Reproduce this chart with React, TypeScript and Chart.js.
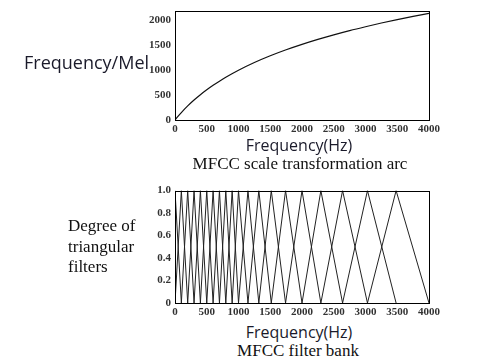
import React, { useEffect, useRef } from "react";
import { Chart, registerables } from "chart.js";

Chart.register(...registerables);

// Top chart: frequency (Hz) -> mel
const melFreqs = [0, 50, 100, 200, 300, 400, 500, 600, 700, 800, 1000, 1250, 1500, 1750, 2000, 2250, 2500, 2750, 3000, 3250, 3500, 3750, 4000];
const melValues = [0, 78, 150, 283, 402, 509, 607, 698, 781, 859, 1000, 1155, 1291, 1412, 1521, 1621, 1713, 1798, 1876, 1950, 2019, 2085, 2146];

// Bottom chart: triangular filter edge / centre frequencies (Hz)
const filterEdges = [0, 100, 200, 300, 400, 500, 600, 700, 800, 900, 1000, 1149, 1320, 1516, 1741, 2000, 2297, 2639, 3031, 3482, 4000];

const xTicks = [0, 500, 1000, 1500, 2000, 2500, 3000, 3500, 4000];
const melTicks = [0, 500, 1000, 1500, 2000];
const degreeTicks = [0, 0.2, 0.4, 0.6, 0.8, 1.0];

const tickFont = { family: "'Liberation Serif', 'DejaVu Serif', serif", size: 11, weight: "bold" as const };
const tickColor = "#333";

const boxPlugin = {
  id: "box",
  afterDraw(chart: any) {
    const { ctx, chartArea } = chart;
    ctx.save();
    ctx.strokeStyle = "#000";
    ctx.lineWidth = 1;
    ctx.strokeRect(Math.round(chartArea.left) + 0.5, Math.round(chartArea.top) + 0.5,
      Math.round(chartArea.right - chartArea.left), Math.round(chartArea.bottom - chartArea.top));
    ctx.restore();
  },
};

function xScale(height: number) {
  return {
    type: "linear" as const,
    min: 0,
    max: 4000,
    grid: { display: false, drawTicks: false },
    border: { display: false },
    afterBuildTicks: (s: any) => { s.ticks = xTicks.map((v) => ({ value: v })); },
    afterFit: (s: any) => { s.height = height; },
    ticks: { font: tickFont, color: tickColor, padding: 3, maxRotation: 0, autoSkip: false, callback: (v: any) => String(v) },
  };
}

function yScale(max: number, ticks: number[], fmt: (v: number) => string) {
  return {
    type: "linear" as const,
    min: 0,
    max,
    grid: { display: false, drawTicks: false },
    border: { display: false },
    afterBuildTicks: (s: any) => { s.ticks = ticks.map((v) => ({ value: v })); },
    afterFit: (s: any) => { s.width = 175; },
    ticks: { font: tickFont, color: tickColor, padding: 4, callback: (v: any) => fmt(Number(v)) },
  };
}

function MelChart() {
  const ref = useRef<HTMLCanvasElement>(null);
  useEffect(() => {
    const chart = new Chart(ref.current!, {
      type: "scatter",
      data: {
        datasets: [{
          data: melFreqs.map((f, i) => ({ x: f, y: melValues[i] })),
          showLine: true,
          borderColor: "#111",
          borderWidth: 1.2,
          pointRadius: 0,
          cubicInterpolationMode: "monotone",
        }],
      },
      options: {
        animation: false,
        responsive: false,
        layout: { padding: { left: 0, right: 60, top: 2, bottom: 0 } },
        plugins: { legend: { display: false }, tooltip: { enabled: false } },
        scales: {
          x: xScale(20),
          y: yScale(2200, melTicks, (v) => String(v)),
        },
      },
      plugins: [boxPlugin],
    } as any);
    return () => chart.destroy();
  }, []);
  return <canvas ref={ref} width={489} height={140} style={{ position: "absolute", left: 0, top: 0 }} />;
}

function FilterChart() {
  const ref = useRef<HTMLCanvasElement>(null);
  useEffect(() => {
    const datasets: any[] = [];
    for (let i = 0; i < filterEdges.length - 1; i++) {
      const pts: { x: number; y: number }[] = [];
      if (i > 0) pts.push({ x: filterEdges[i - 1], y: 0 });
      pts.push({ x: filterEdges[i], y: 1 });
      pts.push({ x: filterEdges[i + 1], y: 0 });
      datasets.push({
        data: pts,
        showLine: true,
        borderColor: "#222",
        borderWidth: 1,
        pointRadius: 0,
        tension: 0,
      });
    }
    const chart = new Chart(ref.current!, {
      type: "scatter",
      data: { datasets },
      options: {
        animation: false,
        responsive: false,
        layout: { padding: { left: 0, right: 60, top: 6, bottom: 0 } },
        plugins: { legend: { display: false }, tooltip: { enabled: false } },
        scales: {
          x: xScale(17),
          y: yScale(1, degreeTicks, (v) => (v === 0 ? "0" : v.toFixed(1))),
        },
      },
      plugins: [boxPlugin],
    } as any);
    return () => chart.destroy();
  }, []);
  return <canvas ref={ref} width={489} height={140} style={{ position: "absolute", left: 0, top: 180 }} />;
}

const sans = "'Open Sans', 'Noto Sans', sans-serif";
const serif = "'Liberation Serif', 'Times New Roman', serif";

function Label(props: { x: number; y: number; text: string; font: string; size: number; center?: boolean; color?: string }) {
  return (
    <div
      style={{
        position: "absolute",
        left: props.x,
        top: props.y,
        transform: props.center ? "translate(-50%, -50%)" : "translate(0, -50%)",
        fontFamily: props.font,
        fontSize: props.size,
        lineHeight: 1,
        whiteSpace: "nowrap",
        color: props.color || "#111",
      }}
    >
      {props.text}
    </div>
  );
}

export default function App() {
  return (
    <div style={{ position: "fixed", left: 0, top: 0, width: 489, height: 363, background: "#fff", overflow: "hidden" }}>
      <MelChart />
      <FilterChart />
      <Label x={24} y={62} text="Frequency/Mel" font={sans} size={18} color="#1a1a2a" />
      <Label x={299} y={145} text="Frequency(Hz)" font={sans} size={16} center color="#1a1a2a" />
      <Label x={300} y={163} text="MFCC scale transformation arc" font={serif} size={17} center />
      <Label x={68} y={225} text="Degree of" font={serif} size={17} />
      <Label x={68} y={246} text="triangular" font={serif} size={17} />
      <Label x={68} y={266} text="filters" font={serif} size={17} />
      <Label x={299} y={332} text="Frequency(Hz)" font={sans} size={16} center color="#1a1a2a" />
      <Label x={298} y={350} text="MFCC filter bank" font={serif} size={17} center />
    </div>
  );
}
